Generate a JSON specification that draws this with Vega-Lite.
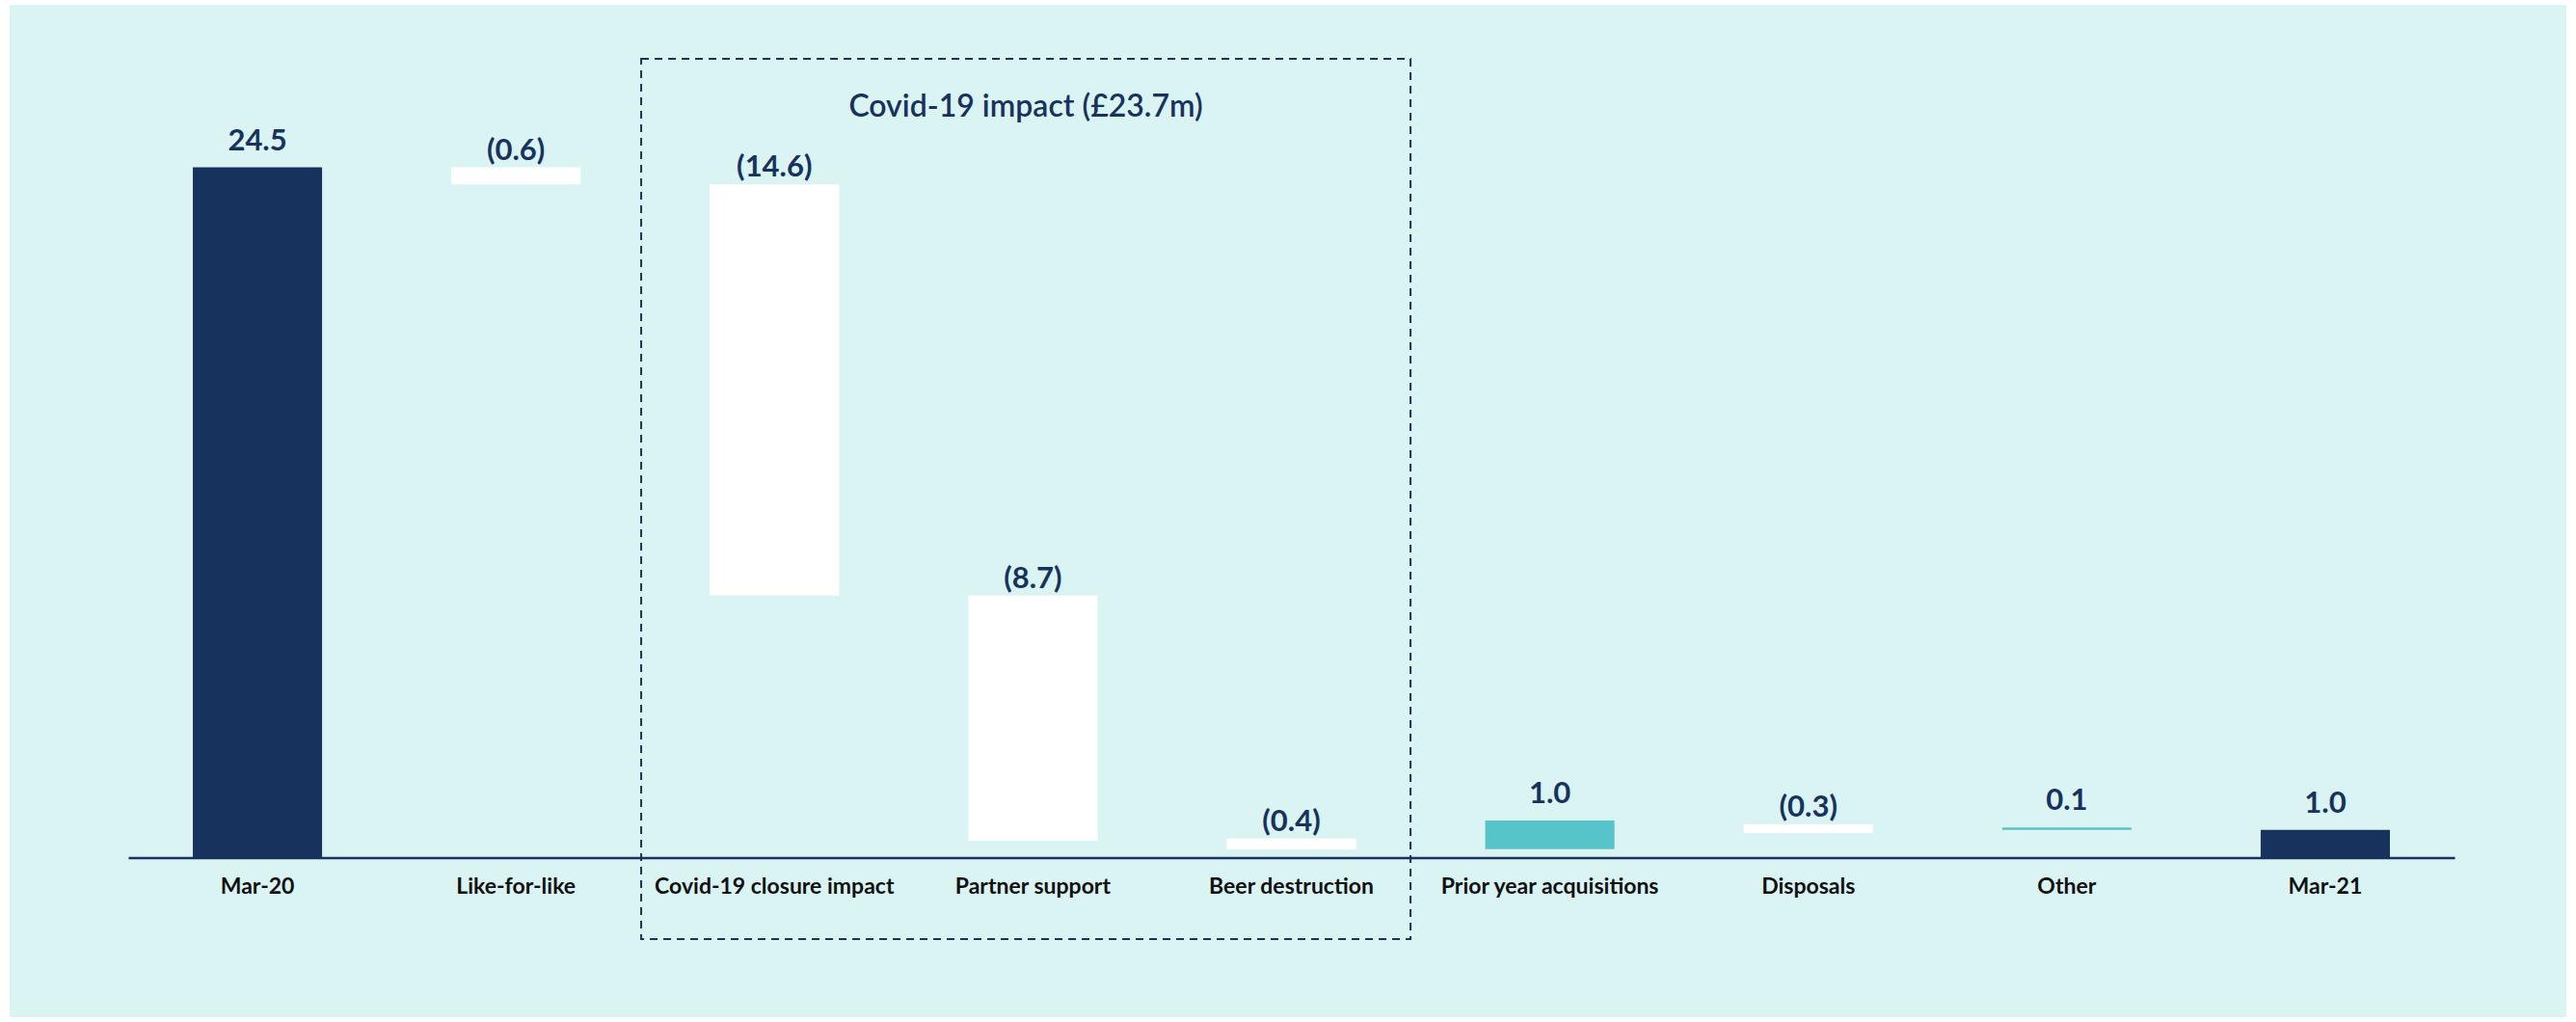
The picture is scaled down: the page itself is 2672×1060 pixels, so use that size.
{
  "$schema": "https://vega.github.io/schema/vega-lite/v6.json",
  "width": 2652,
  "height": 1050,
  "autosize": {"type": "none"},
  "padding": {"left": 10, "top": 5, "right": 10, "bottom": 5},
  "background": "#ffffff",
  "config": {"view": {"fill": "#daf4f4", "stroke": null}, "font": "Lato"},
  "datasets": {
    "bars": [
      {"cat": "Mar-20", "start": 0, "end": 24.5, "kind": "total", "label": "24.5", "dir": "up"},
      {"cat": "Like-for-like", "start": 24.5, "end": 23.9, "kind": "neg", "label": "(0.6)", "dir": "down"},
      {"cat": "Covid-19 closure impact", "start": 23.9, "end": 9.3, "kind": "neg", "label": "(14.6)", "dir": "down"},
      {"cat": "Partner support", "start": 9.3, "end": 0.6, "kind": "neg", "label": "(8.7)", "dir": "down"},
      {"cat": "Beer destruction", "start": 0.68, "end": 0.29, "kind": "neg", "label": "(0.4)", "dir": "down"},
      {"cat": "Prior year acquisitions", "start": 0.3, "end": 1.32, "kind": "pos", "label": "1.0", "dir": "up"},
      {"cat": "Disposals", "start": 1.18, "end": 0.88, "kind": "neg", "label": "(0.3)", "dir": "down"},
      {"cat": "Other", "start": 0.99, "end": 1.07, "kind": "pos", "label": "0.1", "dir": "up"},
      {"cat": "Mar-21", "start": 0, "end": 0.99, "kind": "total", "label": "1.0", "dir": "up"}
    ],
    "box": [
      {"from": "Covid-19 closure impact", "to": "Beer destruction", "mid": "Partner support", "top": 28.35, "bottom": -2.89, "titleAt": 26.3, "title": "Covid-19 impact (£23.7m)"}
    ]
  },
  "encoding": {
    "x": {
      "field": "cat",
      "type": "nominal",
      "sort": null,
      "scale": {
        "domain": ["Mar-20", "Like-for-like", "Covid-19 closure impact", "Partner support", "Beer destruction", "Prior year acquisitions", "Disposals", "Other", "Mar-21"],
        "range": [123, 2536],
        "paddingInner": 0.5,
        "paddingOuter": 0.25
      },
      "axis": {
        "title": null,
        "orient": "bottom",
        "offset": -165.5,
        "domainColor": "#17325d",
        "domainWidth": 2.5,
        "ticks": false,
        "tickSize": 0,
        "grid": false,
        "labelAngle": 0,
        "labelLimit": 0,
        "labelFont": "Lato",
        "labelFontSize": 23,
        "labelFontWeight": "bold",
        "labelColor": "#111111",
        "labelBaseline": "alphabetic",
        "labelPadding": 37
      }
    }
  },
  "layer": [
    {
      "data": {"name": "bars"},
      "mark": {"type": "bar"},
      "encoding": {
        "y": {"field": "start", "type": "quantitative", "scale": {"domain": [-5.66, 30.27], "nice": false, "zero": false}, "axis": null},
        "y2": {"field": "end"},
        "color": {"field": "kind", "type": "nominal", "scale": {"domain": ["total", "neg", "pos"], "range": ["#17325d", "#ffffff", "#56c4c8"]}, "legend": null}
      }
    },
    {
      "data": {"name": "bars"},
      "transform": [{"filter": "datum.dir === 'up'"}],
      "mark": {"type": "text", "baseline": "alphabetic", "align": "center", "dy": -18, "fontSize": 31, "fontWeight": "bold", "color": "#17325d", "font": "Lato"},
      "encoding": {
        "y": {"field": "end", "type": "quantitative"},
        "text": {"field": "label"}
      }
    },
    {
      "data": {"name": "bars"},
      "transform": [{"filter": "datum.dir === 'down'"}],
      "mark": {"type": "text", "baseline": "alphabetic", "align": "center", "dy": -8, "fontSize": 31, "fontWeight": "bold", "color": "#17325d", "font": "Lato"},
      "encoding": {
        "y": {"field": "start", "type": "quantitative"},
        "text": {"field": "label"}
      }
    },
    {
      "data": {"name": "box"},
      "mark": {"type": "rect", "fill": null, "stroke": "#17325d", "strokeWidth": 2, "strokeDash": [8, 6]},
      "encoding": {
        "x": {"field": "from", "type": "nominal", "bandPosition": -0.531},
        "x2": {"field": "to", "bandPosition": 1.422},
        "y": {"field": "top", "type": "quantitative"},
        "y2": {"field": "bottom"}
      }
    },
    {
      "data": {"name": "box"},
      "mark": {"type": "text", "baseline": "alphabetic", "align": "center", "fontSize": 32, "fontWeight": 600, "color": "#17325d", "font": "Lato"},
      "encoding": {
        "x": {"field": "mid", "type": "nominal", "bandPosition": 0.445},
        "y": {"field": "titleAt", "type": "quantitative"},
        "text": {"field": "title"}
      }
    }
  ]
}
